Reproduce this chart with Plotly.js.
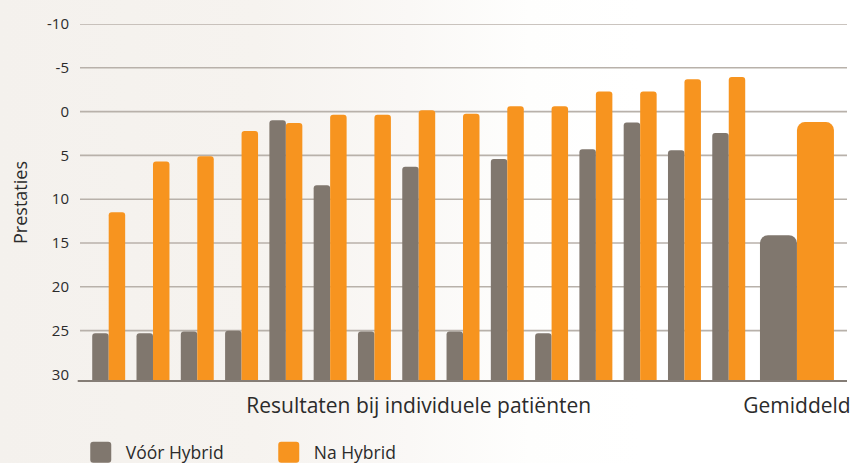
<!DOCTYPE html>
<html>
<head>
<meta charset="utf-8">
<script src="https://cdn.plot.ly/plotly-3.0.1.min.js"></script>
<style>
  html, body { margin: 0; padding: 0; }
  body {
    width: 853px; height: 463px; overflow: hidden;
    background: linear-gradient(90deg, #f4f1ed 0%, #f6f3ef 30%, #faf8f6 48%, #fefefd 62%, #ffffff 75%);
  }
  #chart { width: 853px; height: 463px; }
</style>
</head>
<body>
<div id="chart"></div>
<script>
// ---- data ----
const patients = ['1','2','3','4','5','6','7','8','9','10','11','12','13','14','15'];
const voorHybrid = [25.3, 25.3, 25.1, 25.0, 1.0, 8.4, 25.1, 6.3, 25.1, 5.4, 25.3, 4.3, 1.25, 4.4, 2.45];
const naHybrid   = [11.5, 5.7, 5.1, 2.2, 1.3, 0.35, 0.35, -0.15, 0.25, -0.6, -0.6, -2.3, -2.3, -3.7, -3.95];
const gemiddeldVoor = 14.1;
const gemiddeldNa = 1.2;
const seriesNames = ['Vóór Hybrid', 'Na Hybrid'];
const xLabels = ['Resultaten bij individuele patiënten', 'Gemiddeld'];
const yTicks = [-10, -5, 0, 5, 10, 15, 20, 25, 30];
const yTickText = ['-10', '-5', '0', '5', '10', '15', '20', '25', '30'];
const gridValues = [-10, -5, 0, 5, 10, 15, 20, 25];
const yTitle = 'Prestaties';

// ---- layout constants ----
const AXIS_BOTTOM = 30.75;   // bottom of the visible value axis
const BAR_BASE = 33;         // bars start below the visible range (clipped at the axis line)
const AVG_GAP = 1.54;        // distance between last patient group and the average group
const W_PAT = 0.372, W_AVG = 0.835;
const GREY = '#80776e', ORANGE = '#f7941f';
const FONT = '"Open Sans", "Noto Sans", sans-serif';
const TEXT = '#2b2b2b';

const xPat = patients.map((_, i) => i + 1);
const xAvg = patients.length + AVG_GAP;
const xs = xPat.concat([xAvg]);
const widths = patients.map(() => W_PAT).concat([W_AVG]);

const voorAll = voorHybrid.concat([gemiddeldVoor]);
const naAll = naHybrid.concat([gemiddeldNa]);

const traces = [
  {
    type: 'bar', name: seriesNames[0],
    x: xs, y: voorAll.map(v => v - BAR_BASE), base: BAR_BASE,
    width: widths, offset: widths.map(w => -w),
    marker: { color: GREY, cornerradius: '22%', line: { width: 0 } },
    hoverinfo: 'skip'
  },
  {
    type: 'bar', name: seriesNames[1],
    x: xs, y: naAll.map(v => v - BAR_BASE), base: BAR_BASE,
    width: widths, offset: widths.map(() => 0),
    marker: { color: ORANGE, cornerradius: '22%', line: { width: 0 } },
    hoverinfo: 'skip'
  }
];

const midPatients = (xPat[0] + xPat[xPat.length - 1]) / 2;

const gridShapes = gridValues.map(v => ({
  type: 'line', xref: 'paper', yref: 'y', x0: 0, x1: 1, y0: v, y1: v,
  line: { color: '#b8b1aa', width: 1.6 }, layer: 'below'
}));
const axisShape = {
  type: 'line', xref: 'paper', yref: 'paper', x0: -0.003, x1: 1, y0: 0, y1: 0,
  line: { color: '#857d76', width: 2.2 }, layer: 'above'
};

const layout = {
  width: 853, height: 463,
  margin: { l: 80, r: 6, t: 24, b: 82, autoexpand: false },
  paper_bgcolor: 'rgba(0,0,0,0)',
  plot_bgcolor: 'rgba(0,0,0,0)',
  barmode: 'overlay',
  font: { family: FONT, color: TEXT },
  showlegend: true,
  legend: {
    orientation: 'h', x: 0.0075, xanchor: 'left',
    yref: 'container', y: 0.062, yanchor: 'top',
    font: { size: 17.5, family: FONT, color: TEXT },
    bgcolor: 'rgba(0,0,0,0)', entrywidth: 143, entrywidthmode: 'pixels'
  },
  xaxis: {
    range: [0.352, 17.67], automargin: false,
    showgrid: false, zeroline: false, showline: false,
    tickmode: 'array', tickvals: [midPatients, xAvg], ticktext: xLabels,
    ticks: '', ticklabelstandoff: 10,
    tickfont: { size: 21, family: FONT, color: TEXT },
    fixedrange: true
  },
  yaxis: {
    range: [AXIS_BOTTOM, -10], automargin: false,
    tickmode: 'array', tickvals: yTicks, ticktext: yTickText,
    showgrid: false, zeroline: false, showline: false,
    ticks: '', ticklabelstandoff: 10,
    tickfont: { size: 15, family: FONT, color: TEXT },
    title: { text: yTitle, font: { size: 18, family: FONT, color: TEXT }, standoff: 14 },
    fixedrange: true
  },
  shapes: gridShapes.concat([axisShape])
};

Plotly.newPlot('chart', traces, layout, { displayModeBar: false, staticPlot: true }).then(gd => {
  // enlarge the legend swatches to match the reference's big rounded squares
  gd.querySelectorAll('.legend .legendpoints path').forEach(p => {
    p.setAttribute('d', 'M-12.5,-10.5H2.5A3,3 0 0 1 5.5,-7.5V7.5A3,3 0 0 1 2.5,10.5H-12.5A3,3 0 0 1 -15.5,7.5V-7.5A3,3 0 0 1 -12.5,-10.5Z');
  });
});
</script>
</body>
</html>
